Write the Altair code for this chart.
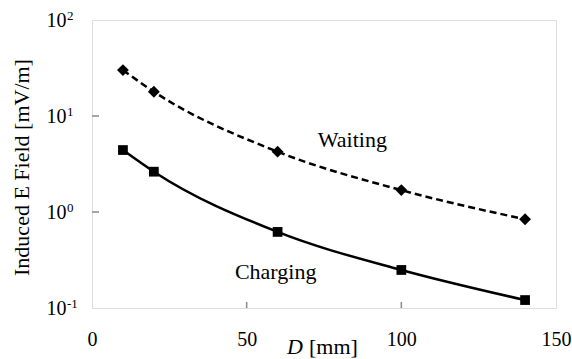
import altair as alt
import pandas as pd

# ---- data ----
D_mm = [10, 20, 60, 100, 140]
waiting = [30.1, 17.9, 4.25, 1.69, 0.84]
charging = [4.42, 2.63, 0.62, 0.249, 0.121]

y_ticks = [0.1, 1, 10, 100]
y_exps = ["-1", "0", "1", "2"]
x_ticks = [0, 50, 100, 150]
x_inner_ticks = [50, 100]
y_inner_ticks = [1, 10]

ann_text = ["Waiting", "Charging"]
ann_x = [73, 46.2]
ann_y = [4.8, 0.2]

FONT = "Liberation Serif"
GRAY = "#8a8a8a"

df_w = pd.DataFrame({"D": D_mm, "E": waiting})
df_c = pd.DataFrame({"D": D_mm, "E": charging})

xs = alt.Scale(domain=[0, 150], nice=False, zero=False)
ys = alt.Scale(type="log", domain=[0.1, 100], nice=False)

x_axis = alt.Axis(
    values=x_ticks, title=None, grid=False, domain=False, ticks=False, tickSize=0,
    labelFont=FONT, labelFontSize=20, labelColor="black", labelPadding=21,
    labelFlush=False, labelOverlap=False)
y_axis = alt.Axis(
    values=y_ticks, title="Induced E Field [mV/m]", grid=False, domain=False,
    ticks=False, tickSize=0, labelExpr="'10'",
    labelFont=FONT, labelFontSize=20, labelColor="black", labelPadding=26,
    labelFlush=False, labelOverlap=False,
    titleFont=FONT, titleFontSize=22, titleFontWeight="normal", titleColor="black",
    titleAngle=270, titleX=-64, titleY=147, titleAlign="center",
    titleBaseline="alphabetic")

x_enc = alt.X("D:Q", scale=xs, axis=x_axis)
y_enc = alt.Y("E:Q", scale=ys, axis=y_axis)

line_w = alt.Chart(df_w).mark_line(
    color="black", strokeWidth=2.5, strokeDash=[7, 4], interpolate="monotone"
).encode(x=x_enc, y=y_enc)
pts_w = alt.Chart(df_w).mark_point(
    shape="diamond", filled=True, color="black", size=140, opacity=1
).encode(x=x_enc, y=y_enc)

line_c = alt.Chart(df_c).mark_line(
    color="black", strokeWidth=2.5, interpolate="monotone"
).encode(x=x_enc, y=y_enc)
pts_c = alt.Chart(df_c).mark_point(
    shape="square", filled=True, color="black", size=95, opacity=1
).encode(x=x_enc, y=y_enc)

# inward tick marks
xt = alt.Chart(pd.DataFrame({"D": x_inner_ticks})).mark_rule(
    color=GRAY, strokeWidth=1.5
).encode(x=x_enc, y=alt.value(288), y2=alt.value(282))
yt = alt.Chart(pd.DataFrame({"E": y_inner_ticks})).mark_rule(
    color=GRAY, strokeWidth=1.5
).encode(y=y_enc, x=alt.value(0), x2=alt.value(7))

# exponents of y labels
exps = alt.Chart(pd.DataFrame({"E": y_ticks, "e": y_exps})).mark_text(
    align="left", baseline="alphabetic", font=FONT, fontSize=13, color="black"
).encode(y=y_enc, x=alt.value(-25), text="e:N")

# series annotations
ann = alt.Chart(pd.DataFrame({"t": ann_text, "D": ann_x, "E": ann_y})).mark_text(
    align="left", baseline="alphabetic", font=FONT, fontSize=22, color="black"
).encode(x=x_enc, y=y_enc, text="t:N")

# x axis title: italic D + [mm]
t_d = alt.Chart(pd.DataFrame({"t": ["D"]})).mark_text(
    align="left", baseline="alphabetic", font=FONT, fontSize=22, fontStyle="italic",
    color="black"
).encode(x=alt.value(195), y=alt.value(334), text="t:N")
t_mm = alt.Chart(pd.DataFrame({"t": ["[mm]"]})).mark_text(
    align="left", baseline="alphabetic", font=FONT, fontSize=22, color="black"
).encode(x=alt.value(217), y=alt.value(334), text="t:N")

chart = alt.layer(
    line_w, line_c, pts_w, pts_c, xt, yt, exps, ann, t_d, t_mm
).properties(
    width=464, height=288,
    padding={"left": 92, "top": 20, "right": 16, "bottom": 51},
    autosize="none",
).configure_view(
    stroke=GRAY, strokeWidth=2
).configure_axis(
    labelFont=FONT, titleFont=FONT, labelColor="black", titleColor="black"
).configure_text(
    font=FONT
).configure(background="white")

chart.save("out.html", embed_options={"renderer": "svg", "actions": False})
